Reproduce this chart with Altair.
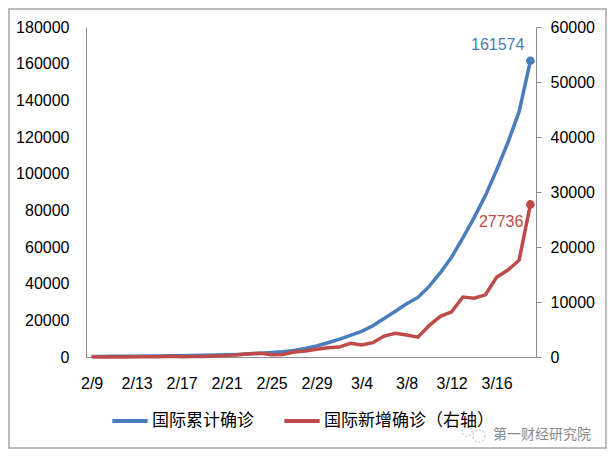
import altair as alt
import pandas as pd

dates = ["2/9", "2/10", "2/11", "2/12", "2/13", "2/14", "2/15", "2/16", "2/17", "2/18",
         "2/19", "2/20", "2/21", "2/22", "2/23", "2/24", "2/25", "2/26", "2/27", "2/28",
         "2/29", "3/1", "3/2", "3/3", "3/4", "3/5", "3/6", "3/7", "3/8", "3/9",
         "3/10", "3/11", "3/12", "3/13", "3/14", "3/15", "3/16", "3/17", "3/18", "3/19"]

cumulative = [300, 320, 370, 390, 450, 500, 530, 650, 680, 790,
              900, 1070, 1200, 1400, 1700, 2000, 2400, 2900, 3600, 4600,
              6000, 7800, 9600, 11800, 14000, 17000, 21000, 25000, 29000, 32500,
              38500, 46000, 54500, 65000, 76000, 88000, 102000, 117000, 133800, 161574]

new_cases = [30, 20, 50, 20, 60, 50, 30, 120, 30, 110,
             110, 170, 250, 400, 600, 700, 400, 450, 900, 1100,
             1400, 1700, 1800, 2500, 2200, 2600, 3800, 4300, 4000, 3600,
             5700, 7400, 8200, 10900, 10700, 11300, 14500, 15800, 17600, 27736]

x_ticks = ["2/9", "2/13", "2/17", "2/21", "2/25", "2/29", "3/4", "3/8", "3/12", "3/16"]
left_ticks = [0, 20000, 40000, 60000, 80000, 100000, 120000, 140000, 160000, 180000]
right_ticks = [0, 10000, 20000, 30000, 40000, 50000, 60000]

name_cum = "国际累计确诊"
name_new = "国际新增确诊（右轴）"
watermark = "第一财经研究院"

BLUE = "#4a7ebb"
RED = "#be4b48"
AXIS_GRAY = "#8c8c8c"
NUM_FONT = "Liberation Sans"
CJK_FONT = "Noto Sans CJK SC"

df = pd.DataFrame({"date": dates, "cum": cumulative, "new": new_cases})
last = dates[-1]

x_enc = alt.X(
    "date:O",
    sort=dates,
    scale=alt.Scale(type="point", padding=0.5),
    axis=alt.Axis(
        values=x_ticks, title=None, labelAngle=0, ticks=False, grid=False,
        domainColor=AXIS_GRAY, labelFont=NUM_FONT, labelFontSize=16,
        labelColor="#000", labelPadding=18,
    ),
)

color_scale = alt.Scale(domain=[name_cum, name_new], range=[BLUE, RED])

left_axis = alt.Axis(
    values=left_ticks, title=None, grid=False, ticks=False,
    domainColor=AXIS_GRAY, labelFont=NUM_FONT, labelFontSize=16,
    labelColor="#000", labelPadding=17, format="d")
right_axis = alt.Axis(
    orient="right", values=right_ticks, title=None, grid=False,
    ticks=True, tickSize=5, tickColor=AXIS_GRAY,
    domainColor=AXIS_GRAY, labelFont=NUM_FONT, labelFontSize=16,
    labelColor="#000", labelPadding=9, format="d")

y_left = alt.Y("cum:Q", scale=alt.Scale(domain=[0, 180000]), axis=left_axis)
y_right = alt.Y("new:Q", scale=alt.Scale(domain=[0, 60000]), axis=right_axis)

base = alt.Chart(df).encode(x=x_enc)

blue_line = base.mark_line(strokeWidth=3.5).encode(
    y=y_left,
    color=alt.Color("s:N", scale=color_scale, legend=alt.Legend(
        title=None, orient="none", legendX=24, legendY=374, direction="horizontal",
        symbolType="stroke", symbolSize=1250, symbolStrokeWidth=4,
        labelFont=CJK_FONT, labelFontSize=17, labelColor="#000",
        labelLimit=400, columnPadding=22, labelOffset=2, padding=0)),
).transform_calculate(s=f"'{name_cum}'")

blue_pt = base.mark_circle(size=75, color=BLUE, opacity=1).encode(
    y=y_left
).transform_filter(alt.datum.date == last)

blue_txt = base.mark_text(
    align="right", baseline="middle", dx=-6, dy=-16, color=BLUE,
    font=NUM_FONT, fontSize=16,
).encode(
    y=y_left,
    text=alt.Text("cum:Q", format="d"),
).transform_filter(alt.datum.date == last)

red_line = base.mark_line(strokeWidth=3.5).encode(
    y=y_right,
    color=alt.Color("s:N", scale=color_scale),
).transform_calculate(s=f"'{name_new}'")

red_pt = base.mark_circle(size=75, color=RED, opacity=1).encode(
    y=y_right
).transform_filter(alt.datum.date == last)

red_txt = base.mark_text(
    align="right", baseline="middle", dx=-7, dy=18, color=RED,
    font=NUM_FONT, fontSize=16,
).encode(
    y=y_right,
    text=alt.Text("new:Q", format="d"),
).transform_filter(alt.datum.date == last)

wm = alt.Chart(pd.DataFrame({"t": [watermark]})).mark_text(
    align="left", baseline="middle", color="#8a8a8a", font=CJK_FONT, fontSize=14,
).encode(x=alt.value(407), y=alt.value(408), text="t:N")

icon1 = alt.Chart(pd.DataFrame({"t": [0]})).mark_point(
    shape="circle", filled=False, stroke="#9a9a9a", strokeWidth=1, strokeDash=[2, 2],
).encode(x=alt.value(381), y=alt.value(404), size=alt.value(110))
icon2 = alt.Chart(pd.DataFrame({"t": [0]})).mark_point(
    shape="circle", filled=False, stroke="#9a9a9a", strokeWidth=1, strokeDash=[2, 2],
).encode(x=alt.value(393), y=alt.value(409), size=alt.value(150))

border = alt.Chart(pd.DataFrame({"t": [0]})).mark_rect(
    fill="transparent", stroke="#a6a6a6", strokeWidth=1.5,
).encode(x=alt.value(-77), x2=alt.value(520), y=alt.value(-18), y2=alt.value(421))

left = alt.layer(blue_line, blue_pt, blue_txt, wm, icon1, icon2, border)
right = alt.layer(red_line, red_pt, red_txt)

chart = alt.layer(left, right).resolve_scale(y="independent").properties(
    width=450, height=330,
    autosize=alt.AutoSizeParams(type="none"),
    padding={"left": 78, "top": 19, "right": 71, "bottom": 96},
    background="white",
).configure_view(stroke=None)

chart.save("out.html", embed_options={"renderer": "svg", "actions": False})
